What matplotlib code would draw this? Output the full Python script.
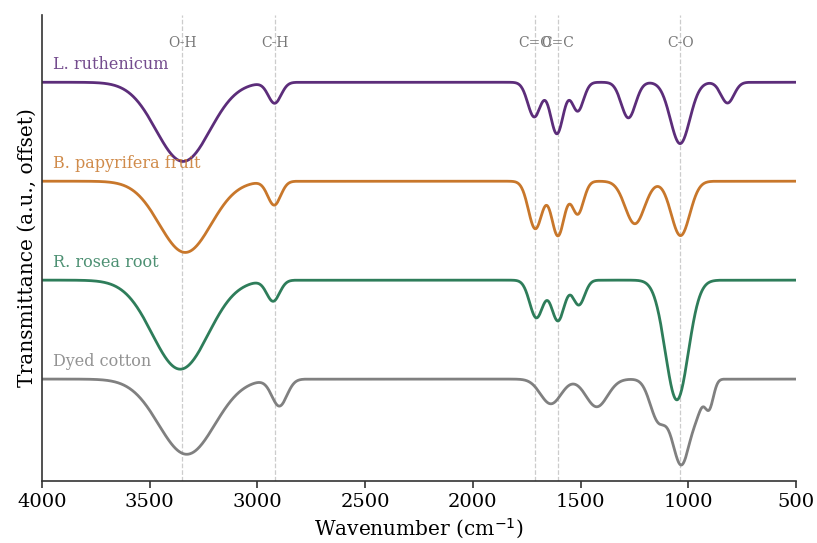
import numpy as np
import matplotlib
matplotlib.use("Agg")
import matplotlib.pyplot as plt

plt.rcParams["font.family"] = ["DejaVu Serif"]

# sample names, top trace first
samples = ["L. ruthenicum", "B. papyrifera fruit", "R. rosea root", "Dyed cotton"]
colors = ["#5c2d7a", "#c8772b", "#2e7d5a", "#808080"]
offsets = [3.0, 2.0, 1.0, 0.0]

# absorption bands: centre (cm-1), depth, width (sigma)
ruth_centers = [3345, 2920, 1715, 1610, 1513, 1278, 1038, 818]
ruth_depths = [0.80, 0.21, 0.35, 0.52, 0.29, 0.36, 0.62, 0.21]
ruth_widths = [125, 30, 30, 30, 27, 33, 45, 30]

papy_centers = [3335, 2922, 1710, 1605, 1513, 1248, 1036]
papy_depths = [0.72, 0.24, 0.48, 0.55, 0.33, 0.43, 0.55]
papy_widths = [120, 30, 32, 30, 27, 45, 43]

rosea_centers = [3358, 2927, 1705, 1605, 1508, 1053]
rosea_depths = [0.90, 0.21, 0.38, 0.41, 0.25, 1.21]
rosea_widths = [130, 30, 31, 30, 27, 53]

cotton_centers = [3328, 2898, 1638, 1425, 1140, 1032, 955, 903]
cotton_depths = [0.76, 0.27, 0.25, 0.28, 0.40, 0.86, 0.18, 0.28]
cotton_widths = [130, 35, 48, 50, 38, 44, 25, 20]

bands = [
    (ruth_centers, ruth_depths, ruth_widths),
    (papy_centers, papy_depths, papy_widths),
    (rosea_centers, rosea_depths, rosea_widths),
    (cotton_centers, cotton_depths, cotton_widths),
]

marker_pos = [3350, 2920, 1710, 1605, 1038]
marker_text = ["O-H", "C-H", "C=O", "C=C", "C-O"]


def spectrum(x, centers, depths, widths):
    y = np.ones_like(x)
    for c, d, w in zip(centers, depths, widths):
        y -= d * np.exp(-(x - c) ** 2 / (2.0 * w ** 2))
    return y


wn = np.linspace(500, 4000, 3000)

fig = plt.figure(figsize=(8.17, 5.43), dpi=100)
ax = fig.add_axes([0.0514, 0.1142, 0.9229, 0.8582])

for pos in marker_pos:
    ax.axvline(pos, color="#cccccc", ls="--", lw=0.9, zorder=0)

for name, col, off, (c, d, w) in zip(samples, colors, offsets, bands):
    ax.plot(wn, spectrum(wn, c, d, w) + off, color=col, lw=2.0)
    ax.text(3950, 1.0 + off + 0.18, name, color=col, alpha=0.85,
            fontsize=11.5, va="center", ha="left")

for pos, txt in zip(marker_pos, marker_text):
    ax.text(pos, 4.40, txt, color="#777777", fontsize=10,
            ha="center", va="center")

ax.set_xlim(4000, 500)
ax.set_ylim(-0.03, 4.68)
ax.set_yticks([])
ax.set_xticks([4000, 3500, 3000, 2500, 2000, 1500, 1000, 500])
ax.tick_params(axis="x", labelsize=14, length=5, width=1.2, color="#333333")
ax.set_xlabel("Wavenumber (cm$^{-1}$)", fontsize=14.5)
ax.set_ylabel("Transmittance (a.u., offset)", fontsize=14.5)

for side in ["top", "right"]:
    ax.spines[side].set_visible(False)
for side in ["left", "bottom"]:
    ax.spines[side].set_color("#333333")
    ax.spines[side].set_linewidth(1.2)

plt.savefig("out.png", dpi=100)
